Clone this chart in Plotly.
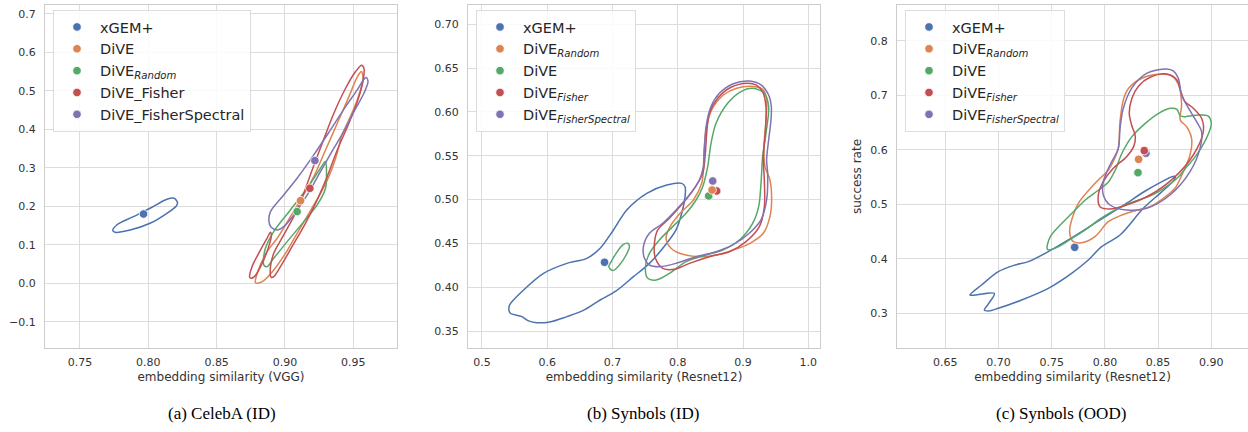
import plotly.graph_objects as go

# ---------------- colours / labels ----------------
COLORS = ["#4c72b0", "#dd8452", "#55a868", "#c44e52", "#8172b3"]
CELEBA_LABELS = ["xGEM+", "DiVE", "DiVE<sub><i>Random</i></sub>", "DiVE_Fisher", "DiVE_FisherSpectral"]
SYNBOLS_LABELS = ["xGEM+", "DiVE<sub><i>Random</i></sub>", "DiVE",
                  "DiVE<sub><i>Fisher</i></sub>", "DiVE<sub><i>FisherSpectral</i></sub>"]
CAPTIONS = ["(a) CelebA (ID)", "(b) Synbols (ID)", "(c) Synbols (OOD)"]
X_TITLES = ["embedding similarity (VGG)", "embedding similarity (Resnet12)", "embedding similarity (Resnet12)"]

# ---------------- mean points (x = embedding similarity, y = success rate) ----------------
CELEBA_PX = [0.7965, 0.9114, 0.9089, 0.9182, 0.9219]
CELEBA_PY = [0.180, 0.2148, 0.1863, 0.2469, 0.3188]
SYNID_PX = [0.6878, 0.8526, 0.8474, 0.8597, 0.8536]
SYNID_PY = [0.4284, 0.5109, 0.5041, 0.5098, 0.5212]
SYNOOD_PX = [0.7716, 0.8317, 0.8311, 0.8370, 0.8386]
SYNOOD_PY = [0.4212, 0.5827, 0.5583, 0.5987, 0.5938]

# ---------------- KDE contour outlines: CelebA (ID) ----------------
C_XGEM_X = [0.774, 0.7769, 0.7891, 0.8013, 0.8136, 0.8189, 0.8214, 0.8205, 0.8136, 0.8013, 0.7867, 0.7757]
C_XGEM_Y = [0.1368, 0.1516, 0.1732, 0.195, 0.2184, 0.221, 0.2096, 0.201, 0.182, 0.156, 0.1386, 0.1326]
C_DIVE_X = [0.8784, 0.8801, 0.8869, 0.8943, 0.9040, 0.9114, 0.9211, 0.9297, 0.9383, 0.9468, 0.9529, 0.9559,
            0.9571, 0.9529, 0.9468, 0.9412, 0.9395, 0.9363, 0.9321, 0.9260, 0.9175, 0.9089, 0.9004, 0.8918,
            0.8845, 0.8801]
C_DIVE_Y = [0.0017, 0.0303, 0.0823, 0.1170, 0.1733, 0.2166, 0.2772, 0.3465, 0.4158, 0.4851, 0.5354, 0.5501,
            0.5328, 0.4765, 0.4245, 0.3812, 0.3552, 0.3162, 0.2772, 0.2339, 0.1819, 0.1300, 0.0780, 0.0347,
            0.0069, 0.0000]
C_RAND_X = [0.9297, 0.9304, 0.9297, 0.9236, 0.9138, 0.9016, 0.8918, 0.8869, 0.8845, 0.8845, 0.8857, 0.8918,
            0.9040, 0.9163, 0.9260]
C_RAND_Y = [0.3162, 0.2902, 0.2469, 0.2036, 0.1603, 0.1083, 0.0650, 0.0433, 0.0476, 0.0693, 0.0910, 0.1343,
            0.1906, 0.2469, 0.2989]
C_FISH_LOBE_X = [0.8742, 0.8759, 0.8808, 0.8869, 0.8894, 0.8901, 0.8881, 0.8833, 0.8776, 0.8752]
C_FISH_LOBE_Y = [0.0156, 0.0433, 0.0780, 0.1170, 0.1325, 0.1256, 0.0953, 0.0520, 0.0173, 0.0130]
C_FISH_X = [0.8899, 0.8894, 0.8918, 0.8991, 0.9077, 0.9138, 0.9199, 0.9273, 0.9358, 0.9444, 0.9517, 0.9561,
            0.9578, 0.9573, 0.9534, 0.9468, 0.9383, 0.9309, 0.9236, 0.9150, 0.9052, 0.8967, 0.8918]
C_FISH_Y = [0.0156, 0.0433, 0.0780, 0.1256, 0.1819, 0.2339, 0.2946, 0.3639, 0.4418, 0.5068, 0.5501, 0.5666,
            0.5588, 0.5285, 0.4765, 0.4158, 0.3465, 0.2772, 0.2166, 0.1559, 0.0953, 0.0433, 0.0173]
C_SPEC_X = [0.8882, 0.8894, 0.8991, 0.9089, 0.9211, 0.9333, 0.9444, 0.9529, 0.9578, 0.9595, 0.9608, 0.9578,
            0.9505, 0.9444, 0.9358, 0.9260, 0.9163, 0.9065, 0.8991, 0.8943, 0.8899]
C_SPEC_Y = [0.1629, 0.1863, 0.2296, 0.2729, 0.3335, 0.3985, 0.4592, 0.5025, 0.5302, 0.5345, 0.5241, 0.4938,
            0.4462, 0.4028, 0.3509, 0.2902, 0.2296, 0.1776, 0.1473, 0.1386, 0.1455]

# ---------------- KDE contour outlines: Synbols (ID) ----------------
S_XGEM_X = [0.5413, 0.5434, 0.5612, 0.5704, 0.5832, 0.6036, 0.6301, 0.6546, 0.6811, 0.7056, 0.7321, 0.7566,
            0.7832, 0.7974, 0.8061, 0.8112, 0.8112, 0.8061, 0.7832, 0.7526, 0.7219, 0.7015, 0.6811, 0.6607,
            0.6301, 0.5944, 0.5638, 0.5423]
S_XGEM_Y = [0.3740, 0.3702, 0.3664, 0.3618, 0.3595, 0.3603, 0.3664, 0.3732, 0.3854, 0.3957, 0.4120, 0.4272,
            0.4501, 0.4653, 0.4843, 0.5033, 0.5147, 0.5185, 0.5166, 0.5071, 0.4881, 0.4653, 0.4444, 0.4329,
            0.4272, 0.4158, 0.3968, 0.3797]
S_RAND_X = [0.7883, 0.7821, 0.7898, 0.8077, 0.8383, 0.8597, 0.8852, 0.9107, 0.9311, 0.9413, 0.9439, 0.9413,
            0.9337, 0.9321, 0.9352, 0.9362, 0.9311, 0.9158, 0.8903, 0.8699, 0.8520, 0.8444, 0.8403, 0.8393,
            0.8367, 0.8240, 0.8036]
S_RAND_Y = [0.4691, 0.4558, 0.4444, 0.4375, 0.4348, 0.4367, 0.4424, 0.4501, 0.4615, 0.4805, 0.4995, 0.5223,
            0.5376, 0.5604, 0.5908, 0.6136, 0.6251, 0.6289, 0.6270, 0.6193, 0.6022, 0.5832, 0.5566, 0.5338,
            0.5185, 0.4995, 0.4843]
S_DIVE_X = [0.9148, 0.9327, 0.9393, 0.9352, 0.9301, 0.9276, 0.9240, 0.9148, 0.8944, 0.8689, 0.8434, 0.8128,
            0.7872, 0.7668, 0.7541, 0.7505, 0.7566, 0.7719, 0.7923, 0.8128, 0.8281, 0.8383, 0.8459, 0.8510,
            0.8587, 0.8765, 0.8969]
S_DIVE_Y = [0.6270, 0.6212, 0.6060, 0.5756, 0.5490, 0.5185, 0.4919, 0.4729, 0.4539, 0.4424, 0.4367, 0.4291,
            0.4158, 0.4082, 0.4101, 0.4234, 0.4386, 0.4539, 0.4691, 0.4843, 0.4995, 0.5147, 0.5376, 0.5642,
            0.5870, 0.6098, 0.6232]
S_DIVE_LOBE_X = [0.6944, 0.7005, 0.7107, 0.7209, 0.7260, 0.7235, 0.7158, 0.7056, 0.6980]
S_DIVE_LOBE_Y = [0.4234, 0.4189, 0.4253, 0.4367, 0.4463, 0.4501, 0.4482, 0.4386, 0.4291]
S_FISH_X = [0.9071, 0.8816, 0.8612, 0.8485, 0.8444, 0.8423, 0.8383, 0.8255, 0.8077, 0.7872, 0.7694, 0.7643,
            0.7658, 0.7770, 0.7949, 0.8179, 0.8485, 0.8791, 0.9046, 0.9250, 0.9327, 0.9327, 0.9311, 0.9342,
            0.9352, 0.9301, 0.9199]
S_FISH_Y = [0.6327, 0.6281, 0.6155, 0.5984, 0.5756, 0.5528, 0.5299, 0.5128, 0.4957, 0.4786, 0.4653, 0.4501,
            0.4329, 0.4215, 0.4204, 0.4272, 0.4348, 0.4405, 0.4520, 0.4691, 0.4919, 0.5223, 0.5490, 0.5756,
            0.6060, 0.6232, 0.6308]
S_SPEC_X = [0.9097, 0.8842, 0.8638, 0.8510, 0.8434, 0.8408, 0.8393, 0.8332, 0.8179, 0.7974, 0.7770, 0.7566,
            0.7474, 0.7490, 0.7566, 0.7719, 0.7974, 0.8281, 0.8587, 0.8842, 0.9097, 0.9276, 0.9362, 0.9378,
            0.9362, 0.9393, 0.9429, 0.9434, 0.9393, 0.9276]
S_SPEC_Y = [0.6353, 0.6319, 0.6212, 0.6060, 0.5832, 0.5566, 0.5376, 0.5223, 0.5052, 0.4881, 0.4729, 0.4615,
            0.4463, 0.4329, 0.4253, 0.4234, 0.4272, 0.4348, 0.4405, 0.4482, 0.4615, 0.4767, 0.4995, 0.5299,
            0.5452, 0.5680, 0.5908, 0.6060, 0.6193, 0.6308]

# ---------------- KDE contour outlines: Synbols (OOD) ----------------
O_XGEM_X = [0.8662, 0.8630, 0.8536, 0.8380, 0.8192, 0.8004, 0.7816, 0.7628, 0.7468, 0.7280, 0.7155, 0.6998,
            0.6841, 0.6732, 0.6760, 0.6961, 0.6907, 0.6867, 0.6907, 0.6998, 0.7217, 0.7468, 0.7687, 0.7844,
            0.7969, 0.8142, 0.8361, 0.8518, 0.8646]
O_XGEM_Y = [0.5509, 0.5509, 0.5417, 0.5246, 0.5007, 0.4775, 0.4542, 0.4316, 0.4132, 0.3949, 0.3887, 0.3765,
            0.3520, 0.3337, 0.3330, 0.3367, 0.3180, 0.3061, 0.3043, 0.3092, 0.3245, 0.3459, 0.3734, 0.3979,
            0.4224, 0.4438, 0.4928, 0.5203, 0.5436]
O_RAND_X = [0.7672, 0.7672, 0.7750, 0.7907, 0.8032, 0.8085, 0.8126, 0.8142, 0.8173, 0.8223, 0.8348, 0.8518,
            0.8630, 0.8693, 0.8721, 0.8708, 0.8768, 0.8815, 0.8800, 0.8737, 0.8659, 0.8549, 0.8424, 0.8286,
            0.8160, 0.8032, 0.7907, 0.7781, 0.7703]
O_RAND_Y = [0.4438, 0.4591, 0.5020, 0.5387, 0.5632, 0.5815, 0.6029, 0.6519, 0.6917, 0.7131, 0.7315, 0.7394,
            0.7357, 0.7192, 0.6825, 0.6550, 0.6427, 0.6213, 0.5907, 0.5601, 0.5295, 0.5111, 0.4958, 0.4885,
            0.4805, 0.4683, 0.4408, 0.4297, 0.4316]
O_DIVE_X = [0.7456, 0.7487, 0.7565, 0.7690, 0.7816, 0.7941, 0.8035, 0.8098, 0.8160, 0.8254, 0.8380, 0.8505,
            0.8615, 0.8677, 0.8709, 0.8756, 0.8881, 0.8969, 0.9000, 0.8975, 0.8912, 0.8850, 0.8771, 0.8693,
            0.8599, 0.8505, 0.8411, 0.8317, 0.8192, 0.8066, 0.7941, 0.7816, 0.7690, 0.7565, 0.7471]
O_DIVE_Y = [0.4193, 0.4408, 0.4591, 0.4836, 0.5081, 0.5264, 0.5417, 0.5632, 0.5938, 0.6244, 0.6488, 0.6672,
            0.6764, 0.6745, 0.6623, 0.6611, 0.6641, 0.6623, 0.6488, 0.6305, 0.6060, 0.5876, 0.5693, 0.5509,
            0.5356, 0.5234, 0.5142, 0.5081, 0.4989, 0.4867, 0.4714, 0.4530, 0.4377, 0.4224, 0.4163]
O_FISH_X = [0.8580, 0.8424, 0.8317, 0.8254, 0.8229, 0.8251, 0.8286, 0.8270, 0.8204, 0.8079, 0.7985, 0.7938,
            0.7954, 0.8048, 0.8204, 0.8424, 0.8643, 0.8831, 0.8925, 0.8909, 0.8831, 0.8753, 0.8709, 0.8678]
O_FISH_Y = [0.7394, 0.7333, 0.7174, 0.6947, 0.6672, 0.6458, 0.6244, 0.6060, 0.5876, 0.5662, 0.5417, 0.5172,
            0.4958, 0.4916, 0.4989, 0.5172, 0.5478, 0.5907, 0.6335, 0.6580, 0.6764, 0.6886, 0.7100, 0.7284]
O_SPEC_X = [0.8580, 0.8392, 0.8251, 0.8173, 0.8142, 0.8126, 0.8048, 0.7985, 0.7985, 0.8048, 0.8204, 0.8392,
            0.8612, 0.8800, 0.8894, 0.8909, 0.8862, 0.8768, 0.8721, 0.8690, 0.8643]
O_SPEC_Y = [0.7486, 0.7406, 0.7131, 0.6764, 0.6397, 0.6029, 0.5723, 0.5417, 0.5172, 0.4989, 0.4897, 0.4928,
            0.5172, 0.5601, 0.6029, 0.6335, 0.6519, 0.6825, 0.7009, 0.7315, 0.7449]

# ---------------- axis settings ----------------
X_RANGES = [[0.7244, 0.982], [0.4786, 1.018], [0.6046, 0.9345]]
Y_RANGES = [[-0.168, 0.723], [0.3306, 0.722], [0.2364, 0.866]]
X_TICKS = [[0.75, 0.80, 0.85, 0.90, 0.95], [0.5, 0.6, 0.7, 0.8, 0.9, 1.0], [0.65, 0.70, 0.75, 0.80, 0.85, 0.90]]
X_FMT = [".2f", ".1f", ".2f"]
Y_TICKS = [[-0.1, 0.0, 0.1, 0.2, 0.3, 0.4, 0.5, 0.6, 0.7],
           [0.35, 0.40, 0.45, 0.50, 0.55, 0.60, 0.65, 0.70],
           [0.3, 0.4, 0.5, 0.6, 0.7, 0.8]]
Y_FMT = [".1f", ".2f", ".1f"]

# plot-area pixel boxes (left, right) in a 1248 x 432 canvas
W, H = 1248, 432
X_PIX = [(45, 397), (468, 820), (897, 1248)]
Y_PIX = (5, 348)
LEGEND_LEFT = [53, 476, 905]
CAPTION_X = [222, 643, 1061]

panels = [
    dict(labels=CELEBA_LABELS, px=CELEBA_PX, py=CELEBA_PY,
         contours=[(0, C_XGEM_X, C_XGEM_Y), (1, C_DIVE_X, C_DIVE_Y), (2, C_RAND_X, C_RAND_Y),
                   (3, C_FISH_LOBE_X, C_FISH_LOBE_Y), (3, C_FISH_X, C_FISH_Y), (4, C_SPEC_X, C_SPEC_Y)],
         dot_order=[0, 1, 2, 3, 4]),
    dict(labels=SYNBOLS_LABELS, px=SYNID_PX, py=SYNID_PY,
         contours=[(0, S_XGEM_X, S_XGEM_Y), (1, S_RAND_X, S_RAND_Y), (2, S_DIVE_X, S_DIVE_Y),
                   (2, S_DIVE_LOBE_X, S_DIVE_LOBE_Y), (3, S_FISH_X, S_FISH_Y), (4, S_SPEC_X, S_SPEC_Y)],
         dot_order=[0, 2, 3, 1, 4]),
    dict(labels=SYNBOLS_LABELS, px=SYNOOD_PX, py=SYNOOD_PY,
         contours=[(0, O_XGEM_X, O_XGEM_Y), (1, O_RAND_X, O_RAND_Y), (2, O_DIVE_X, O_DIVE_Y),
                   (3, O_FISH_X, O_FISH_Y), (4, O_SPEC_X, O_SPEC_Y)],
         dot_order=[0, 1, 2, 4, 3]),
]

fig = go.Figure()
FONT = "DejaVu Sans"
TXT = "#333333"

for i, p in enumerate(panels):
    sfx = "" if i == 0 else str(i + 1)
    xref, yref = "x" + sfx, "y" + sfx
    legname = "legend" + sfx
    for ci, xs, ys in p["contours"]:
        fig.add_trace(go.Scatter(
            x=list(xs) + [xs[0]], y=list(ys) + [ys[0]], mode="lines",
            line=dict(color=COLORS[ci], width=1.5, shape="spline", smoothing=0.9),
            hoverinfo="skip", showlegend=False, xaxis=xref, yaxis=yref))
    for k in p["dot_order"]:
        fig.add_trace(go.Scatter(
            x=[p["px"][k]], y=[p["py"][k]], mode="markers", name=p["labels"][k],
            marker=dict(color=COLORS[k], size=8.5, line=dict(color="white", width=0.8)),
            legend=legname, legendrank=k + 1, showlegend=True, xaxis=xref, yaxis=yref))

    x0, x1 = X_PIX[i]
    ax_common = dict(showgrid=True, gridcolor="#dcdcdc", gridwidth=1.2, zeroline=False,
                     showline=True, mirror=True, linecolor="#cccccc", linewidth=1.2, automargin=False,
                     ticks="", tickfont=dict(family=FONT, size=11, color=TXT))
    fig.layout["xaxis" + sfx] = dict(
        ax_common, domain=[x0 / W, x1 / W], range=X_RANGES[i], anchor=yref,
        tickvals=X_TICKS[i], tickformat=X_FMT[i], ticklabelstandoff=4,
        title=dict(text=X_TITLES[i], font=dict(family=FONT, size=12, color=TXT), standoff=4))
    fig.layout["yaxis" + sfx] = dict(
        ax_common, domain=[1 - Y_PIX[1] / H, 1 - Y_PIX[0] / H], range=Y_RANGES[i], anchor=xref,
        tickvals=Y_TICKS[i], tickformat=Y_FMT[i], ticklabelstandoff=6)
    fig.layout[legname] = dict(
        x=LEGEND_LEFT[i] / W, y=1 - 10 / H, xanchor="left", yanchor="top",
        bgcolor="rgba(255,255,255,0.85)", bordercolor="#dddddd", borderwidth=1,
        font=dict(family=FONT, size=14.5, color="#262626"), itemsizing="trace", itemwidth=36,
        traceorder="normal")
    fig.add_annotation(text=CAPTIONS[i], x=CAPTION_X[i] / W, y=1 - 413 / H, xref="paper", yref="paper",
                       showarrow=False, xanchor="center", yanchor="middle",
                       font=dict(family="Liberation Serif", size=17, color="black"))

fig.layout["yaxis3"]["title"] = dict(text="success rate", font=dict(family=FONT, size=12, color=TXT), standoff=6)

fig.update_layout(width=W, height=H, margin=dict(l=0, r=0, t=0, b=0, autoexpand=False),
                  paper_bgcolor="white", plot_bgcolor="white", showlegend=True)

fig.write_html("out.html", config={"displayModeBar": False},
               post_script="document.body.style.margin='0';document.body.style.overflow='hidden';")
